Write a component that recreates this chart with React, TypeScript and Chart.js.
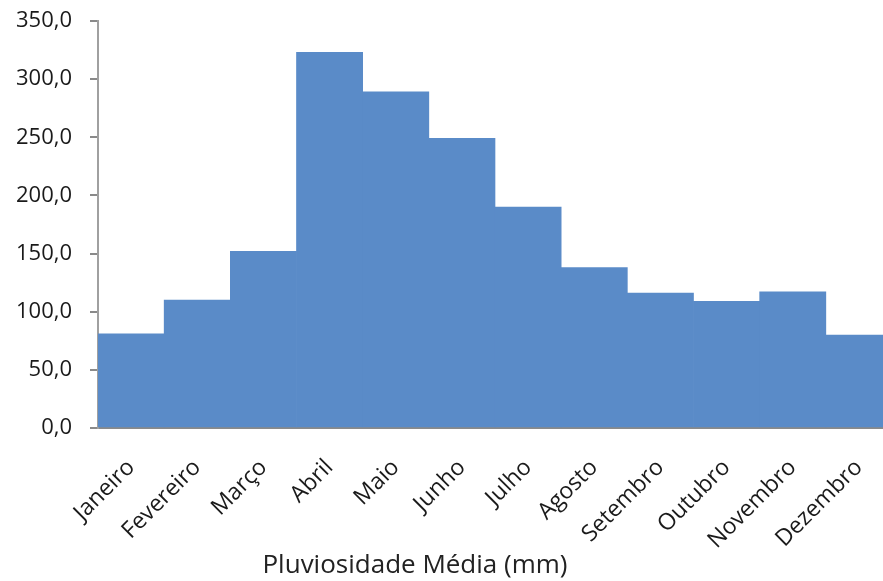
import React, { useEffect, useRef } from "react";
import { Chart, registerables } from "chart.js";

Chart.register(...registerables);

const months = [
  "Janeiro", "Fevereiro", "Março", "Abril", "Maio", "Junho",
  "Julho", "Agosto", "Setembro", "Outubro", "Novembro", "Dezembro",
];
const rainfall = [81, 110, 152, 323, 289, 249, 190, 138, 116, 109, 117, 80];
const yMin = 0;
const yMax = 350;
const yStep = 50;
const axisTitle = "Pluviosidade Média (mm)";

const FONT = "'Open Sans', 'DejaVu Sans', sans-serif";

export default function App() {
  const ref = useRef<HTMLCanvasElement | null>(null);

  useEffect(() => {
    if (!ref.current) return;
    const titlePlugin = {
      id: "bottomTitle",
      afterDraw(chart: any) {
        const ctx = chart.ctx;
        ctx.save();
        ctx.font = `26px ${FONT}`;
        ctx.fillStyle = "#222";
        ctx.textAlign = "center";
        ctx.textBaseline = "middle";
        ctx.fillText(axisTitle, 415, 566);
        ctx.restore();
      },
    };
    const chart = new Chart(ref.current, {
      type: "bar",
      data: {
        labels: months,
        datasets: [
          {
            data: rainfall,
            backgroundColor: "#5A8BC8",
            borderWidth: 0,
            barPercentage: 1,
            categoryPercentage: 1,
          },
        ],
      },
      options: {
        animation: false,
        responsive: false,
        layout: { padding: { top: 21, right: 0, left: 0, bottom: 0 } },
        plugins: { legend: { display: false }, tooltip: { enabled: false } },
        scales: {
          x: {
            grid: { display: false },
            border: { display: true, color: "#8a8a8a", width: 2 },
            ticks: {
              color: "#1a1a1a",
              font: { family: FONT, size: 23 },
              minRotation: 45,
              maxRotation: 45,
              padding: 18,
            },
            afterFit(scale: any) {
              scale.height = 153;
              scale.paddingLeft = 0;
              scale.paddingRight = 0;
            },
          },
          y: {
            min: yMin,
            max: yMax,
            grid: {
              display: true,
              drawOnChartArea: false,
              drawTicks: true,
              tickLength: 8,
              color: "#8a8a8a",
              lineWidth: 2,
            },
            border: { display: true, color: "#a0a0a0", width: 2 },
            ticks: {
              stepSize: yStep,
              color: "#1a1a1a",
              font: { family: FONT, size: 22 },
              padding: 18,
              callback: (v: any) => Number(v).toFixed(1).replace(".", ","),
            },
            afterFit(scale: any) {
              scale.width = 98;
              scale.paddingTop = 0;
              scale.paddingBottom = 0;
            },
          },
        },
      },
      plugins: [titlePlugin],
    });
    return () => chart.destroy();
  }, []);

  return (
    <div
      style={{
        position: "fixed",
        left: 0,
        top: 0,
        width: 883,
        height: 581,
        overflow: "hidden",
        background: "#fff",
      }}
    >
      <canvas ref={ref} width={892} height={581} style={{ display: "block" }} />
    </div>
  );
}
